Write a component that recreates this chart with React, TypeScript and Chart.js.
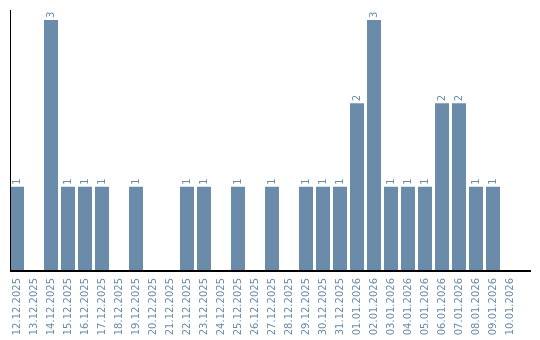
import React, { useEffect, useRef } from "react";
import { Chart, registerables } from "chart.js";

Chart.register(...registerables);

const categories = [
  "12.12.2025", "13.12.2025", "14.12.2025", "15.12.2025", "16.12.2025",
  "17.12.2025", "18.12.2025", "19.12.2025", "20.12.2025", "21.12.2025",
  "22.12.2025", "23.12.2025", "24.12.2025", "25.12.2025", "26.12.2025",
  "27.12.2025", "28.12.2025", "29.12.2025", "30.12.2025", "31.12.2025",
  "01.01.2026", "02.01.2026", "03.01.2026", "04.01.2026", "05.01.2026",
  "06.01.2026", "07.01.2026", "08.01.2026", "09.01.2026", "10.01.2026",
];

const counts = [
  1, 0, 3, 1, 1, 1, 0, 1, 0, 0,
  1, 1, 0, 1, 0, 1, 0, 1, 1, 1,
  2, 3, 1, 1, 1, 2, 2, 1, 1, 0,
];

const BAR_COLOR = "#6a8caa";
const TEXT_COLOR = "#6a8cab";
const FONT = "DejaVu Sans";

const axisLinesPlugin = {
  id: "axisLines",
  afterDraw(chart: any) {
    const { ctx, chartArea } = chart;
    ctx.save();
    ctx.strokeStyle = "#000";
    ctx.lineWidth = 1;
    ctx.beginPath();
    ctx.moveTo(10.5, chartArea.top);
    ctx.lineTo(10.5, chartArea.bottom);
    ctx.stroke();
    ctx.lineWidth = 2;
    ctx.beginPath();
    ctx.moveTo(10, chartArea.bottom + 1);
    ctx.lineTo(531, chartArea.bottom + 1);
    ctx.stroke();
    ctx.restore();
  },
};

const valueLabelsPlugin = {
  id: "valueLabels",
  afterDatasetsDraw(chart: any) {
    const { ctx } = chart;
    const meta = chart.getDatasetMeta(0);
    const data = chart.data.datasets[0].data as number[];
    ctx.save();
    ctx.fillStyle = TEXT_COLOR;
    ctx.font = `10px "${FONT}"`;
    ctx.textAlign = "left";
    ctx.textBaseline = "middle";
    meta.data.forEach((bar: any, i: number) => {
      const v = data[i];
      if (!v) return;
      ctx.save();
      ctx.translate(bar.x, bar.y - 2);
      ctx.rotate(-Math.PI / 2);
      ctx.fillText(String(v), 0, 0);
      ctx.restore();
    });
    ctx.restore();
  },
};

export default function App() {
  const canvasRef = useRef<HTMLCanvasElement | null>(null);

  useEffect(() => {
    if (!canvasRef.current) return;
    const chart = new Chart(canvasRef.current, {
      type: "bar",
      data: {
        labels: categories,
        datasets: [
          {
            data: counts,
            backgroundColor: BAR_COLOR,
            borderWidth: 0,
            categoryPercentage: 1,
            barPercentage: 14 / 17,
          },
        ],
      },
      options: {
        animation: false,
        responsive: false,
        maintainAspectRatio: false,
        layout: { padding: { left: 8.5, top: 10, right: 21.5, bottom: 0 } },
        plugins: {
          legend: { display: false },
          tooltip: { enabled: false },
          title: { display: false },
        },
        scales: {
          x: {
            border: { display: false },
            grid: { display: false, drawTicks: false },
            ticks: {
              color: TEXT_COLOR,
              font: { family: FONT, size: 10 },
              minRotation: 90,
              maxRotation: 90,
              autoSkip: false,
              padding: 8,
            },
            afterFit: (axis: any) => {
              axis.height = 70;
            },
          },
          y: {
            display: false,
            min: 0,
            max: 3.12,
          },
        },
      },
      plugins: [axisLinesPlugin, valueLabelsPlugin],
    });
    return () => chart.destroy();
  }, []);

  return (
    <div style={{ position: "fixed", left: 0, top: 0, width: 540, height: 340, background: "#fff" }}>
      <canvas ref={canvasRef} width={540} height={340} style={{ width: 540, height: 340 }} />
    </div>
  );
}
